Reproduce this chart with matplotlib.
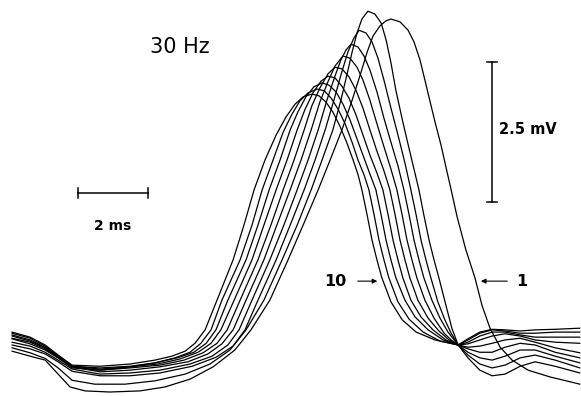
import numpy as np
import matplotlib.pyplot as plt

# ten successive responses at 30 Hz, (time ms, potential mV)
trace_1 = [(0.34, -0.27), (0.86, -0.36), (1.29, -0.43), (1.66, -0.68), (2.00, -0.91),
           (2.43, -0.98), (3.14, -1.00), (4.00, -0.98), (4.71, -0.91), (5.43, -0.77),
           (6.09, -0.55), (6.71, -0.25), (7.17, 0.11), (7.71, 0.64), (8.23, 1.36),
           (8.66, 1.98), (9.09, 2.61), (9.43, 3.14), (9.77, 3.68), (10.06, 4.21),
           (10.29, 4.66), (10.49, 5.07), (10.66, 5.36), (10.86, 5.54), (11.03, 5.63),
           (11.17, 5.66), (11.43, 5.61), (11.66, 5.46), (11.83, 5.25), (12.00, 4.93),
           (12.14, 4.57), (12.29, 4.18), (12.43, 3.82), (12.60, 3.41), (12.74, 3.02),
           (12.89, 2.61), (13.06, 2.13), (13.31, 1.54),
           (13.57, 1.04), (13.77, 0.55), (14.00, 0.14), (14.29, -0.20), (14.63, -0.43),
           (15.09, -0.61), (15.71, -0.73), (16.57, -0.86)]

trace_2 = [(0.34, -0.21), (0.86, -0.30), (1.29, -0.40), (1.66, -0.57), (2.06, -0.79),
           (2.71, -0.86), (3.57, -0.86), (4.43, -0.80), (5.29, -0.68), (6.00, -0.50),
           (6.57, -0.25), (7.03, 0.11), (7.54, 0.64), (8.06, 1.36), (8.49, 1.98),
           (8.89, 2.61), (9.20, 3.14), (9.51, 3.68), (9.74, 4.21), (9.91, 4.66),
           (10.06, 5.07), (10.20, 5.41), (10.34, 5.66), (10.51, 5.80), (10.71, 5.75),
           (10.89, 5.59), (11.03, 5.29), (11.17, 4.88), (11.31, 4.39), (11.51, 3.82),
           (11.74, 3.21), (11.97, 2.61), (12.11, 2.16), (12.26, 1.71), (12.40, 1.36),
           (12.54, 1.04), (12.74, 0.55), (12.91, 0.14), (13.09, -0.16), (13.37, -0.39),
           (13.71, -0.61), (14.06, -0.71), (14.43, -0.68), (14.86, -0.54), (15.29, -0.46),
           (15.86, -0.54), (16.57, -0.66)]

trace_3 = [(0.34, -0.16), (0.86, -0.23), (1.29, -0.32), (1.66, -0.46), (2.06, -0.63),
           (2.86, -0.71), (3.71, -0.71), (4.57, -0.66), (5.49, -0.54), (6.17, -0.38),
           (6.66, -0.18), (7.00, 0.11), (7.37, 0.64), (7.89, 1.36), (8.29, 1.98),
           (8.69, 2.61), (9.00, 3.14), (9.29, 3.68), (9.54, 4.21), (9.74, 4.66),
           (9.94, 5.07), (10.11, 5.32), (10.26, 5.46), (10.46, 5.41), (10.63, 5.25),
           (10.80, 4.96), (10.97, 4.57), (11.17, 4.07), (11.37, 3.59), (11.57, 3.09),
           (11.74, 2.61), (11.89, 2.16), (12.03, 1.71), (12.17, 1.36), (12.31, 1.04),
           (12.51, 0.61), (12.71, 0.29), (12.89, 0.05), (13.09, -0.16), (13.37, -0.34),
           (13.71, -0.50), (14.06, -0.57), (14.43, -0.52), (14.86, -0.39), (15.29, -0.34),
           (15.86, -0.43), (16.57, -0.57)]

trace_4 = [(0.34, -0.11), (0.86, -0.18), (1.29, -0.29), (1.66, -0.43), (2.06, -0.59),
           (2.86, -0.68), (3.71, -0.66), (4.57, -0.61), (5.43, -0.50), (6.06, -0.36),
           (6.51, -0.16), (6.83, 0.11), (7.20, 0.64), (7.71, 1.36), (8.11, 1.98),
           (8.49, 2.61), (8.80, 3.14), (9.09, 3.68), (9.34, 4.21), (9.57, 4.64),
           (9.74, 4.93), (9.89, 5.11), (10.03, 5.21), (10.23, 5.16), (10.40, 5.00),
           (10.57, 4.75), (10.77, 4.36), (10.97, 3.89), (11.17, 3.46), (11.37, 3.04),
           (11.54, 2.61), (11.69, 2.16), (11.83, 1.71), (11.97, 1.36), (12.11, 1.04),
           (12.34, 0.64), (12.57, 0.32), (12.80, 0.07), (13.09, -0.16), (13.37, -0.29),
           (13.71, -0.39), (14.06, -0.43), (14.43, -0.36), (14.86, -0.25), (15.29, -0.25),
           (15.86, -0.36), (16.57, -0.48)]

trace_5 = [(0.34, -0.05), (0.86, -0.14), (1.29, -0.25), (1.66, -0.39), (2.06, -0.55),
           (2.86, -0.64), (3.71, -0.61), (4.57, -0.55), (5.37, -0.46), (5.94, -0.32),
           (6.34, -0.14), (6.66, 0.11), (7.03, 0.64), (7.54, 1.36), (7.91, 1.98),
           (8.29, 2.61), (8.60, 3.14), (8.89, 3.68), (9.14, 4.18), (9.37, 4.54),
           (9.57, 4.82), (9.80, 5.00), (10.00, 4.96), (10.20, 4.80), (10.37, 4.57),
           (10.57, 4.21), (10.77, 3.79), (10.97, 3.38), (11.17, 2.98), (11.34, 2.61),
           (11.49, 2.16), (11.63, 1.71), (11.77, 1.36), (11.91, 1.04), (12.14, 0.64),
           (12.40, 0.32), (12.69, 0.05), (12.89, -0.07), (13.09, -0.16), (13.37, -0.23),
           (13.71, -0.29), (14.06, -0.29), (14.43, -0.20), (14.86, -0.13), (15.29, -0.16),
           (15.86, -0.29), (16.57, -0.39)]

trace_6 = [(0.34, 0.00), (0.86, -0.09), (1.29, -0.21), (1.66, -0.38), (2.06, -0.55),
           (2.86, -0.61), (3.71, -0.57), (4.57, -0.52), (5.26, -0.43), (5.80, -0.30),
           (6.20, -0.13), (6.49, 0.11), (6.86, 0.64), (7.37, 1.36), (7.74, 1.98),
           (8.09, 2.61), (8.40, 3.14), (8.69, 3.68), (8.91, 4.11), (9.14, 4.43),
           (9.37, 4.68), (9.57, 4.80), (9.77, 4.77), (9.97, 4.63), (10.17, 4.39),
           (10.37, 4.07), (10.57, 3.68), (10.77, 3.30), (10.97, 2.95), (11.14, 2.61),
           (11.29, 2.16), (11.43, 1.71), (11.57, 1.36), (11.71, 1.04), (11.94, 0.64),
           (12.23, 0.32), (12.54, 0.09), (12.83, -0.07), (13.09, -0.16), (13.37, -0.20),
           (13.71, -0.18), (14.06, -0.13), (14.43, -0.07), (14.86, -0.04), (15.29, -0.11),
           (15.86, -0.21), (16.57, -0.30)]

trace_7 = [(0.34, 0.02), (0.86, -0.07), (1.29, -0.20), (1.66, -0.36), (2.06, -0.54),
           (2.86, -0.59), (3.71, -0.55), (4.51, -0.50), (5.14, -0.41), (5.66, -0.29),
           (6.03, -0.13), (6.31, 0.11), (6.69, 0.64), (7.20, 1.36), (7.54, 1.98),
           (7.89, 2.61), (8.20, 3.14), (8.49, 3.68), (8.71, 4.04), (8.94, 4.34),
           (9.17, 4.55), (9.37, 4.64), (9.57, 4.61), (9.77, 4.46), (9.97, 4.25),
           (10.17, 3.95), (10.37, 3.59), (10.57, 3.23), (10.77, 2.91), (10.94, 2.61),
           (11.09, 2.16), (11.23, 1.71), (11.37, 1.36), (11.51, 1.04), (11.74, 0.64),
           (12.03, 0.34), (12.37, 0.11), (12.74, -0.07), (13.09, -0.16), (13.37, -0.14),
           (13.71, -0.07), (14.06, 0.00), (14.43, 0.04), (14.86, 0.00), (15.29, -0.07),
           (15.86, -0.11), (16.57, -0.13)]

trace_8 = [(0.34, 0.05), (0.86, -0.04), (1.29, -0.18), (1.66, -0.36), (2.06, -0.54),
           (2.86, -0.57), (3.71, -0.54), (4.43, -0.48), (5.06, -0.39), (5.54, -0.29),
           (5.89, -0.13), (6.17, 0.11), (6.51, 0.64), (7.03, 1.36), (7.37, 1.98),
           (7.69, 2.61), (8.00, 3.14), (8.29, 3.68), (8.51, 4.00), (8.74, 4.27),
           (8.97, 4.45), (9.20, 4.52), (9.40, 4.48), (9.60, 4.36), (9.80, 4.14),
           (10.00, 3.86), (10.20, 3.52), (10.40, 3.18), (10.57, 2.89), (10.74, 2.61),
           (10.89, 2.16), (11.03, 1.71), (11.17, 1.36), (11.31, 1.04), (11.57, 0.64),
           (11.86, 0.34), (12.23, 0.11), (12.66, -0.07), (13.09, -0.16), (13.37, -0.11),
           (13.71, 0.00), (14.06, 0.07), (14.43, 0.07), (14.86, 0.02), (15.29, -0.02),
           (15.86, -0.02), (16.57, -0.02)]

trace_9 = [(0.34, -0.04), (0.86, -0.11), (1.29, -0.23), (1.66, -0.39), (2.06, -0.57),
           (2.86, -0.61), (3.71, -0.55), (4.43, -0.48), (5.00, -0.39), (5.43, -0.29),
           (5.74, -0.13), (6.03, 0.11), (6.34, 0.64), (6.86, 1.36), (7.20, 1.98),
           (7.49, 2.61), (7.80, 3.14), (8.09, 3.64), (8.34, 3.96), (8.57, 4.20),
           (8.80, 4.34), (9.06, 4.41), (9.26, 4.38), (9.46, 4.25), (9.66, 4.05),
           (9.86, 3.79), (10.06, 3.46), (10.23, 3.14), (10.40, 2.88), (10.54, 2.61),
           (10.69, 2.16), (10.83, 1.71), (10.97, 1.36), (11.11, 1.04), (11.37, 0.61),
           (11.69, 0.30), (12.09, 0.07), (12.57, -0.09), (13.09, -0.16), (13.37, -0.07),
           (13.71, 0.05), (14.06, 0.11), (14.43, 0.09), (14.86, 0.05), (15.29, 0.05),
           (15.86, 0.07), (16.57, 0.07)]

trace_10 = [(0.34, 0.07), (0.86, -0.02), (1.29, -0.16), (1.66, -0.34), (2.06, -0.52),
            (2.86, -0.54), (3.71, -0.50), (4.43, -0.43), (4.91, -0.36), (5.29, -0.27),
            (5.57, -0.13), (5.86, 0.11), (6.20, 0.64), (6.66, 1.36), (6.97, 1.98),
            (7.26, 2.61), (7.57, 3.14), (7.89, 3.59), (8.17, 3.91), (8.43, 4.14),
            (8.66, 4.27), (8.91, 4.32), (9.11, 4.29), (9.31, 4.18), (9.51, 4.00),
            (9.71, 3.75), (9.91, 3.45), (10.09, 3.14), (10.23, 2.88), (10.34, 2.61),
            (10.49, 2.16), (10.63, 1.71), (10.77, 1.36), (10.91, 1.04), (11.17, 0.61),
            (11.49, 0.29), (11.89, 0.07), (12.43, -0.07), (13.09, -0.16), (13.37, -0.05),
            (13.71, 0.07), (14.06, 0.12), (14.43, 0.11), (14.86, 0.09), (15.29, 0.11),
            (15.86, 0.12), (16.57, 0.14)]

traces = [trace_1, trace_2, trace_3, trace_4, trace_5,
          trace_6, trace_7, trace_8, trace_9, trace_10]

time_bar_ms = 2.0
volt_bar_mv = 2.5

fig = plt.figure(figsize=(5.81, 3.96), dpi=100)
ax = fig.add_axes([0, 0, 1, 1])

for tr in traces:
    tr = np.array(tr)
    ax.plot(tr[:, 0], tr[:, 1], color='black', lw=0.9,
            solid_capstyle='round', solid_joinstyle='round')

# calibration bars
tb0, tb_y = 2.23, 2.55
ax.plot([tb0, tb0 + time_bar_ms], [tb_y, tb_y], color='black', lw=1.1)
for x in (tb0, tb0 + time_bar_ms):
    ax.plot([x, x], [tb_y - 0.09, tb_y + 0.09], color='black', lw=1.1)
ax.text(tb0 + time_bar_ms / 2, tb_y - 0.58, '2 ms', ha='center', va='center',
        fontsize=10, fontweight='bold')

vb_x, vb0 = 14.06, 2.39
ax.plot([vb_x, vb_x], [vb0, vb0 + volt_bar_mv], color='black', lw=1.1)
for y in (vb0, vb0 + volt_bar_mv):
    ax.plot([vb_x - 0.14, vb_x + 0.14], [y, y], color='black', lw=1.1)
ax.text(vb_x + 0.2, vb0 + volt_bar_mv / 2 + 0.04, '2.5 mV', ha='left', va='center',
        fontsize=10.5, fontweight='bold')

ax.text(5.14, 5.16, '30 Hz', ha='center', va='center', fontsize=15)

# trace numbers with pointers
arrow = dict(arrowstyle='-|>', color='black', lw=0.8, mutation_scale=7)
ax.annotate('', xy=(10.86, 0.98), xytext=(10.14, 0.98), arrowprops=arrow)
ax.text(9.57, 0.98, '10', ha='center', va='center', fontsize=11.5, fontweight='bold')
ax.annotate('', xy=(13.66, 0.98), xytext=(14.57, 0.98), arrowprops=arrow)
ax.text(14.92, 0.98, '1', ha='center', va='center', fontsize=11.5, fontweight='bold')

ax.set_xlim(0, 16.6)
ax.set_ylim(-1.071, 6.0)
ax.axis('off')

fig.savefig('out.png', dpi=100)
